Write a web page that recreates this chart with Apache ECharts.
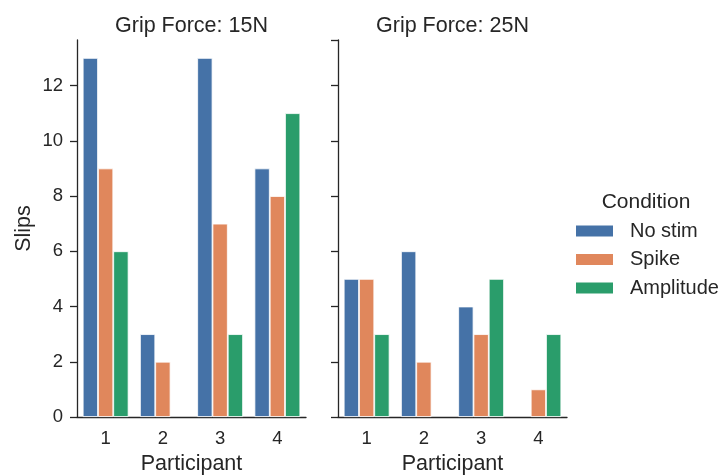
<!DOCTYPE html>
<html>
<head>
<meta charset="utf-8">
<script src="https://cdn.jsdelivr.net/npm/echarts@6/dist/echarts.min.js"></script>
<style>html,body{margin:0;padding:0;background:#fff}#c{width:721px;height:475px}</style>
</head>
<body>
<div id="c"></div>
<script>
const participants = ['1', '2', '3', '4'];
const conditions = ['No stim', 'Spike', 'Amplitude'];
const panelTitles = ['Grip Force: 15N', 'Grip Force: 25N'];
const noStim15 = [13, 3, 13, 9];
const spike15 = [9, 2, 7, 8];
const amplitude15 = [6, 0, 3, 11];
const noStim25 = [5, 6, 4, 0];
const spike25 = [5, 2, 3, 1];
const amplitude25 = [3, 0, 5, 3];
const yTicks = [0, 2, 4, 6, 8, 10, 12];

const colors = ['#4572a7', '#e0875c', '#2a9d6b'];
const ink = '#262626';
const font = 'Liberation Sans, Arial, sans-serif';

const chart = echarts.init(document.getElementById('c'), null, {renderer: 'canvas'});

function xAxis(gi) {
  return {
    type: 'category', gridIndex: gi, data: participants,
    name: 'Participant', nameLocation: 'middle', nameGap: 35,
    nameTextStyle: {fontSize: 21.5, color: ink, fontFamily: font},
    axisLine: {lineStyle: {color: ink, width: 1.3}},
    axisTick: {alignWithLabel: true, length: 7, lineStyle: {color: ink, width: 1.3}},
    axisLabel: {fontSize: 18.5, color: ink, fontFamily: font, margin: 12}
  };
}
function yAxis(gi, showLabels) {
  return {
    type: 'value', gridIndex: gi, min: 0, max: 13.65, interval: 2,
    name: showLabels ? 'Slips' : '', nameLocation: 'middle', nameGap: 42,
    nameTextStyle: {fontSize: 21.5, color: ink, fontFamily: font},
    axisLine: {show: true, lineStyle: {color: ink, width: 1.3}},
    axisTick: {show: true, length: 7, lineStyle: {color: ink, width: 1.3}},
    axisLabel: {show: showLabels, fontSize: 18.5, color: ink, fontFamily: font, margin: 14,
      showMaxLabel: false, formatter: v => (yTicks.indexOf(v) >= 0 ? String(v) : '')},
    splitLine: {show: false}
  };
}
function bar(name, data, gi, ci) {
  return {
    type: 'bar', name: name, xAxisIndex: gi, yAxisIndex: gi,
    data: data.map(v => (v === 0 ? {value: v, itemStyle: {borderWidth: 0}} : v)),
    barGap: '0%', barCategoryGap: '20%',
    itemStyle: {color: colors[ci], borderColor: '#ffffff', borderWidth: 0.8},
    emphasis: {disabled: true}
  };
}

chart.setOption({
  animation: false,
  backgroundColor: '#ffffff',
  title: [
    {text: panelTitles[0], left: 191.5, top: 15, textAlign: 'center', padding: 0,
      textStyle: {fontSize: 21.5, fontWeight: 'normal', color: ink, fontFamily: font}},
    {text: panelTitles[1], left: 452.5, top: 15, textAlign: 'center', padding: 0,
      textStyle: {fontSize: 21.5, fontWeight: 'normal', color: ink, fontFamily: font}},
    {text: 'Condition', left: 646, top: 192, textAlign: 'center', padding: 0,
      textStyle: {fontSize: 21, fontWeight: 'normal', color: ink, fontFamily: font}}
  ],
  legend: {
    data: conditions, orient: 'vertical', left: 574, top: 221, padding: 0,
    itemWidth: 39, itemHeight: 13, itemGap: 8.5,
    icon: 'rect',
    textStyle: {fontSize: 20, color: ink, fontFamily: font, padding: [0, 0, 0, 11], lineHeight: 20},
    selectedMode: false
  },
  grid: [
    {left: 77, right: 415, top: 40, bottom: 58, outerBoundsMode: 'none', containLabel: false},
    {left: 338, right: 154, top: 40, bottom: 58, outerBoundsMode: 'none', containLabel: false}
  ],
  xAxis: [xAxis(0), xAxis(1)],
  yAxis: [yAxis(0, true), yAxis(1, false)],
  series: [
    bar(conditions[0], noStim15, 0, 0),
    bar(conditions[1], spike15, 0, 1),
    bar(conditions[2], amplitude15, 0, 2),
    bar(conditions[0], noStim25, 1, 0),
    bar(conditions[1], spike25, 1, 1),
    bar(conditions[2], amplitude25, 1, 2)
  ]
});
</script>
</body>
</html>
